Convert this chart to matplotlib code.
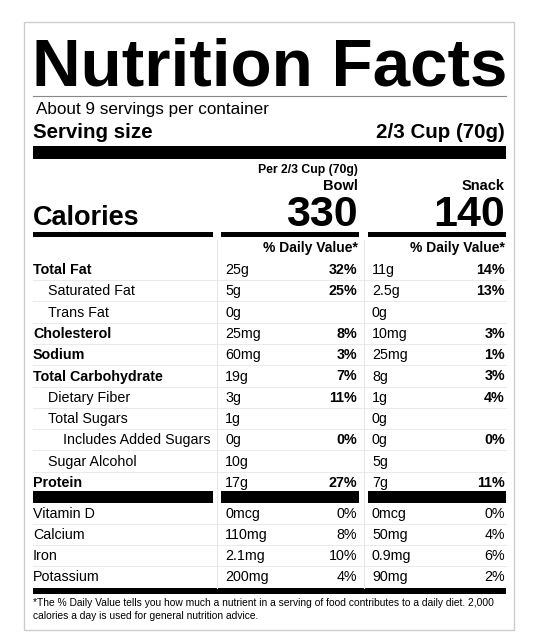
import matplotlib
matplotlib.use("Agg")
import matplotlib.pyplot as plt
from matplotlib.patches import Rectangle

servings_text = "About 9 servings per container"
serving_size = "2/3 Cup (70g)"
calories = ["330", "140"]
col_names = ["Bowl", "Snack"]
nutrients = ["Total Fat", "Saturated Fat", "Trans Fat", "Cholesterol", "Sodium",
             "Total Carbohydrate", "Dietary Fiber", "Total Sugars",
             "Includes Added Sugars", "Sugar Alcohol", "Protein"]
indent = [0, 1, 1, 0, 0, 0, 1, 1, 2, 1, 0]
bold_name = [True, False, False, True, True, True, False, False, False, False, True]
bowl_amt = ["25g", "5g", "0g", "25mg", "60mg", "19g", "3g", "1g", "0g", "10g", "17g"]
bowl_dv = ["32%", "25%", "", "8%", "3%", "7%", "11%", "", "0%", "", "27%"]
snack_amt = ["11g", "2.5g", "0g", "10mg", "25mg", "8g", "1g", "0g", "0g", "5g", "7g"]
snack_dv = ["14%", "13%", "", "3%", "1%", "3%", "4%", "", "0%", "", "11%"]
vitamins = ["Vitamin D", "Calcium", "Iron", "Potassium"]
vit_bowl_amt = ["0mcg", "110mg", "2.1mg", "200mg"]
vit_bowl_dv = ["0%", "8%", "10%", "4%"]
vit_snack_amt = ["0mcg", "50mg", "0.9mg", "90mg"]
vit_snack_dv = ["0%", "4%", "6%", "2%"]
footnote = ["*The % Daily Value tells you how much a nutrient in a serving of food contributes to a daily diet. 2,000",
            "calories a day is used for general nutrition advice."]

plt.rcParams['font.family'] = ['Liberation Sans', 'DejaVu Sans']
fig = plt.figure(figsize=(5.5, 6.38), dpi=100)
ax = fig.add_axes([0, 0, 1, 1])
ax.set_xlim(0, 550); ax.set_ylim(638, 0); ax.axis('off')

def box(x0, y0, x1, y1, c='black'):
    ax.add_patch(Rectangle((x0, y0), x1 - x0, y1 - y0, color=c, lw=0))

def t(x, y, s, size, bold=False, ha='left'):
    ax.text(x, y, s, fontsize=size, fontweight='bold' if bold else 'normal',
            ha=ha, va='baseline', color='black')

ax.add_patch(Rectangle((24, 22), 490, 608, fill=False, ec='#cccccc', lw=1))
L, R, C1, C2 = 33, 506, 217, 364
t(32, 86, "Nutrition Facts", 48.5, True)
ax.plot([L, R], [96, 96], color='#888888', lw=0.8)
t(36, 114, servings_text, 12.3)
t(L, 138, "Serving size", 14.8, True)
t(505, 138, serving_size, 14.8, True, 'right')
box(L, 146, R, 159)
t(358, 173, "Per 2/3 Cup (70g)", 8.8, True, 'right')
t(358, 190, col_names[0], 10.5, True, 'right')
t(505, 190, col_names[1], 10.5, True, 'right')
t(L, 225, "Calories", 19.5, True)
t(358, 226, calories[0], 31, True, 'right')
t(505, 226, calories[1], 31, True, 'right')
for x0, x1 in [(L, 213), (221, 359), (368, R)]:
    box(x0, 232, x1, 237)
    box(x0, 491, x1, 503)
t(358, 252, "% Daily Value*", 10, True, 'right')
t(505, 252, "% Daily Value*", 10, True, 'right')
ax.plot([C1, C1], [240, 588], color='#e6e6e6', lw=0.8)
ax.plot([C2, C2], [240, 588], color='#e6e6e6', lw=0.8)

y0, dy = 274, 21.3
for i, n in enumerate(nutrients):
    y = y0 + i * dy
    t(L + 15 * indent[i], y, n, 10.3, bold_name[i])
    t(225, y, bowl_amt[i], 10.3)
    t(357, y, bowl_dv[i], 10.3, True, 'right')
    t(372, y, snack_amt[i], 10.3)
    t(505, y, snack_dv[i], 10.3, True, 'right')
    if i < len(nutrients) - 1:
        ax.plot([L, R], [y + 6, y + 6], color='#e6e6e6', lw=0.6)
for i, n in enumerate(vitamins):
    y = 518 + i * 21
    t(L, y, n, 10.3)
    t(225, y, vit_bowl_amt[i], 10.3)
    t(357, y, vit_bowl_dv[i], 10.3, False, 'right')
    t(372, y, vit_snack_amt[i], 10.3)
    t(505, y, vit_snack_dv[i], 10.3, False, 'right')
    if i < 3:
        ax.plot([L, R], [y + 6, y + 6], color='#e6e6e6', lw=0.6)
box(L, 588, R, 594)
t(L, 606, footnote[0], 7.4)
t(L, 619, footnote[1], 7.4)
fig.savefig("out.png", dpi=100)
